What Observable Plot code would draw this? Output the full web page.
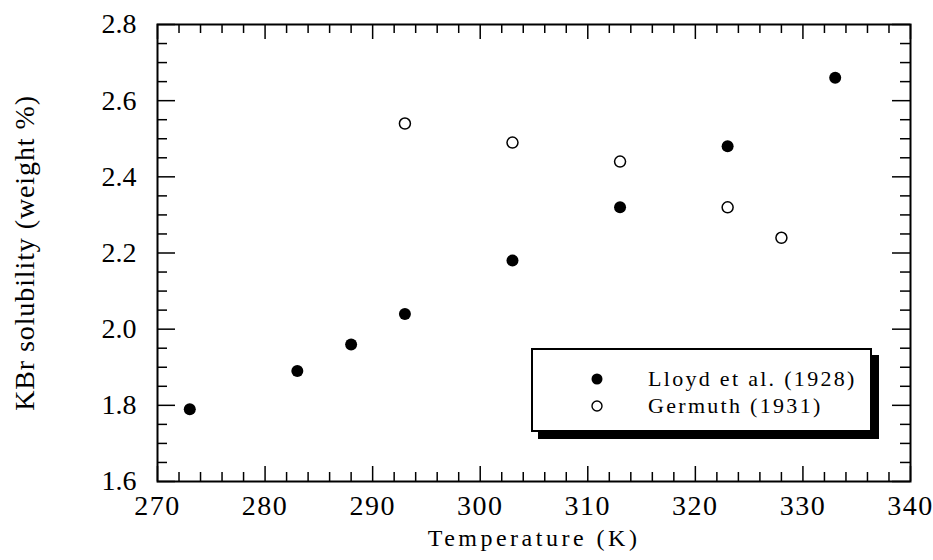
<!DOCTYPE html>
<html><head><meta charset="utf-8">
<script src="https://cdn.jsdelivr.net/npm/d3@7"></script>
<script src="https://cdn.jsdelivr.net/npm/@observablehq/plot@0.6"></script>
<style>
body{margin:0;background:#fff;}
#wrap{position:relative;width:933px;height:560px;}
svg text{font-family:"Liberation Serif","Times New Roman",serif;fill:#000;}
#legend{position:absolute;left:531px;top:348px;width:341px;height:84px;box-sizing:border-box;border:2px solid #000;box-shadow:7px 7px 0 #000;background:#fff;font-family:"Liberation Serif","Times New Roman",serif;font-size:22px;letter-spacing:2.3px;color:#000;}
.row{position:absolute;left:0;width:100%;height:26px;}
.row svg{position:absolute;left:57px;top:6px;}
.row span{position:absolute;left:115px;top:0;line-height:26px;white-space:nowrap;}
</style></head>
<body>
<div id="wrap"></div>
<script>
// Data
const tempLloyd = [273, 283, 288, 293, 303, 313, 323, 333];
const solLloyd = [1.79, 1.89, 1.96, 2.04, 2.18, 2.32, 2.48, 2.66];
const tempGermuth = [293, 303, 313, 323, 328];
const solGermuth = [2.54, 2.49, 2.44, 2.32, 2.24];
const seriesNames = ["Lloyd et al. (1928)", "Germuth (1931)"];
const xTicks = [270, 280, 290, 300, 310, 320, 330, 340];
const yTicks = [1.6, 1.8, 2.0, 2.2, 2.4, 2.6, 2.8];
const xTitle = "Temperature (K)";
const yTitle = "KBr solubility (weight %)";

const xMinor = d3.range(272, 340, 2).filter(v => v % 10 !== 0);
const yMinor = d3.range(33, 56).filter(i => i % 4 !== 0).map(i => i * 0.05);

const lloyd = tempLloyd.map((t, i) => ({t, s: solLloyd[i]}));
const germuth = tempGermuth.map((t, i) => ({t, s: solGermuth[i]}));

const W = 933, H = 560, mL = 157, mR = 23, mT = 24, mB = 79;
const fh = H - mT - mB, fw = W - mL - mR;
const majX = 15, minX = 9, majY = 18, minY = 10;

const chart = Plot.plot({
  width: W, height: H,
  marginLeft: mL, marginRight: mR, marginTop: mT, marginBottom: mB,
  x: {domain: [270, 340]},
  y: {domain: [1.6, 2.8]},
  style: {fontFamily: "'Liberation Serif', serif", background: "white", color: "black"},
  marks: [
    Plot.tickX(xTicks, {x: d => d, insetTop: fh - majX, stroke: "black", strokeWidth: 1.5}),
    Plot.tickX(xMinor, {x: d => d, insetTop: fh - minX, stroke: "black", strokeWidth: 1.5}),
    Plot.tickX(xTicks, {x: d => d, insetBottom: fh - majX, stroke: "black", strokeWidth: 1.5}),
    Plot.tickX(xMinor, {x: d => d, insetBottom: fh - minX, stroke: "black", strokeWidth: 1.5}),
    Plot.tickY(yTicks, {y: d => d, insetRight: fw - majY, stroke: "black", strokeWidth: 1.5}),
    Plot.tickY(yMinor, {y: d => d, insetRight: fw - minY, stroke: "black", strokeWidth: 1.5}),
    Plot.tickY(yTicks, {y: d => d, insetLeft: fw - majY, stroke: "black", strokeWidth: 1.5}),
    Plot.tickY(yMinor, {y: d => d, insetLeft: fw - minY, stroke: "black", strokeWidth: 1.5}),
    Plot.frame({stroke: "black", strokeWidth: 2}),
    Plot.axisX(xTicks, {tickSize: 0, tickPadding: 14, fontSize: 28, label: null}),
    Plot.axisY(yTicks, {tickSize: 0, tickPadding: 21, fontSize: 28, label: null, tickFormat: d => d.toFixed(1)}),
    Plot.text([xTitle], {frameAnchor: "bottom", lineAnchor: "middle", textAnchor: "middle", dy: 57, fontSize: 24, text: d => d}),
    Plot.text([yTitle], {frameAnchor: "left", lineAnchor: "middle", textAnchor: "middle", dx: -132, rotate: -90, fontSize: 28, text: d => d}),
    Plot.dot(germuth, {x: "t", y: "s", r: 5.5, stroke: "black", strokeWidth: 1.5, fill: "white"}),
    Plot.dot(lloyd, {x: "t", y: "s", r: 6, fill: "black", stroke: "none"})
  ]
});
document.getElementById("wrap").appendChild(chart);
const svgSel = d3.select(chart);
svgSel.selectAll("text").filter(function(){ return this.textContent === xTitle; }).style("letter-spacing", "3.5px");
svgSel.selectAll("text").filter(function(){ return this.textContent === yTitle; }).style("letter-spacing", "0.9px");
svgSel.selectAll("[aria-label='x-axis tick label'] text").style("letter-spacing", "1.5px");

// Legend
const legend = document.createElement("div");
legend.id = "legend";
seriesNames.forEach((name, i) => {
  const row = document.createElement("div");
  row.className = "row";
  row.style.top = (i === 0 ? 16 : 43) + "px";
  const filled = i === 0;
  row.innerHTML = `<svg width="14" height="14"><circle cx="7" cy="7" r="${filled ? 5.5 : 5}" fill="${filled ? "black" : "white"}" stroke="black" stroke-width="${filled ? 0 : 1.4}"/></svg><span>${name}</span>`;
  legend.appendChild(row);
});
document.getElementById("wrap").appendChild(legend);
</script>
</body></html>
